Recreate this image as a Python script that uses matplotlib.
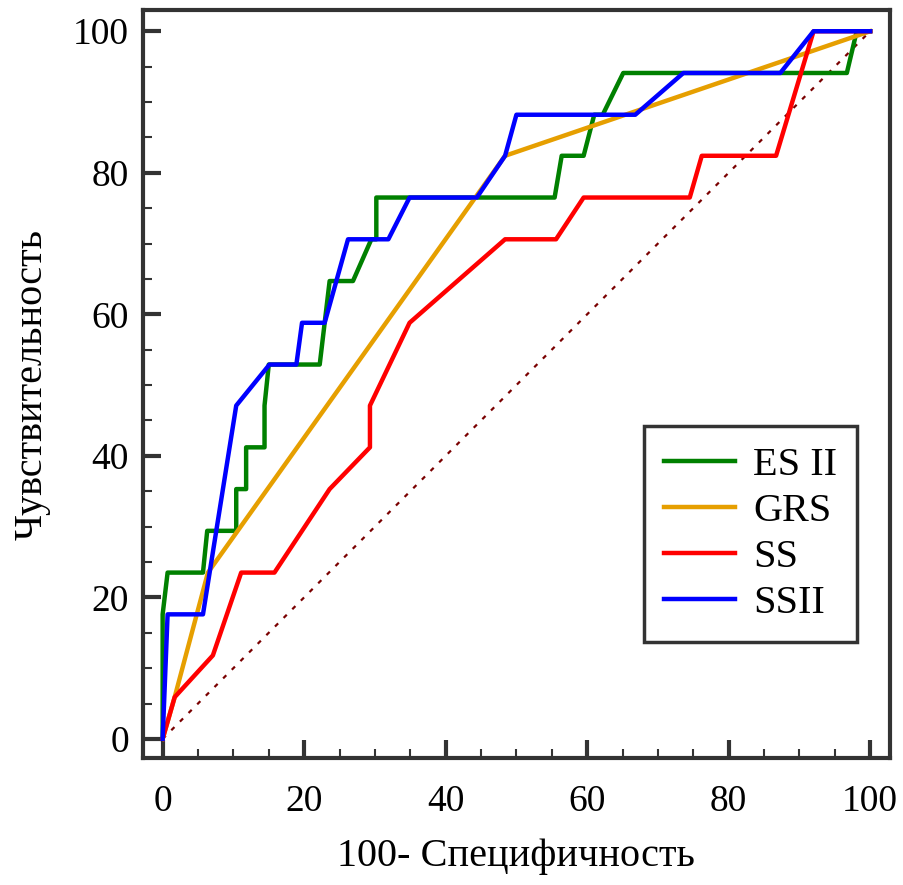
import numpy as np
import matplotlib
matplotlib.use("Agg")
import matplotlib.pyplot as plt
from matplotlib.ticker import MultipleLocator

plt.rcParams['font.family'] = ['Liberation Serif', 'DejaVu Serif']

# ROC curves (x = 100 - specificity, y = sensitivity), %
es2_x = [0, 0, 0.7, 5.7, 6.3, 10.4, 10.4, 11.8, 11.8, 14.4, 14.4, 15.0, 22.2, 23.6, 26.9, 29.5, 30.2, 30.2,
         55.4, 56.4, 59.5, 61.0, 62.2, 65.1, 96.7, 98.1, 100]
es2_y = [0, 17.6, 23.5, 23.5, 29.4, 29.4, 35.3, 35.3, 41.2, 41.2, 47.1, 52.9, 52.9, 64.7, 64.7, 70.6, 70.6, 76.5,
         76.5, 82.4, 82.4, 88.2, 88.2, 94.1, 94.1, 100, 100]

grs_x = [0, 1.7, 6.4, 48.4, 100]
grs_y = [0, 5.9, 23.5, 82.4, 100]

ss_x = [0, 1.7, 7.1, 11.1, 15.8, 23.6, 29.3, 29.3, 34.9, 48.4, 55.6, 59.5, 74.5, 76.2, 86.7, 92.0, 100]
ss_y = [0, 5.9, 11.8, 23.5, 23.5, 35.3, 41.2, 47.1, 58.8, 70.6, 70.6, 76.5, 76.5, 82.4, 82.4, 100, 100]

ss2_x = [0, 0, 0.7, 5.7, 10.4, 15.1, 18.9, 19.7, 22.9, 26.2, 31.9, 34.9, 44.4, 48.4, 50.0, 66.8, 73.6, 87.3,
         92.0, 100]
ss2_y = [0, 0, 17.6, 17.6, 47.1, 52.9, 52.9, 58.8, 58.8, 70.6, 70.6, 76.5, 76.5, 82.4, 88.2, 88.2, 94.1, 94.1,
         100, 100]

fig = plt.figure(figsize=(9.04, 8.85), dpi=100)
ax = fig.add_axes([0.158, 0.1435, 0.8265, 0.8452])

ax.plot([0, 100], [0, 100], color="#7a0000", lw=1.6, dashes=(2, 3.5))
ax.plot(es2_x, es2_y, color="#008000", lw=3.2, label="ES II")
ax.plot(grs_x, grs_y, color="#E69F00", lw=3.2, label="GRS")
ax.plot(ss_x, ss_y, color="#FF0000", lw=3.2, label="SS")
ax.plot(ss2_x, ss2_y, color="#0000FF", lw=3.2, label="SSII")

ax.set_xlim(-2.8, 102.8)
ax.set_ylim(-2.7, 103)
ax.xaxis.set_major_locator(MultipleLocator(20))
ax.yaxis.set_major_locator(MultipleLocator(20))
ax.xaxis.set_minor_locator(MultipleLocator(5))
ax.yaxis.set_minor_locator(MultipleLocator(5))

for s in ax.spines.values():
    s.set_linewidth(3)
    s.set_color("#333333")
ax.tick_params(which="major", direction="in", length=13, width=3, color="#333333",
               labelsize=27, pad=10)
ax.tick_params(axis="x", which="major", pad=19)
ax.tick_params(which="minor", direction="in", length=6.5, width=1.5, color="#333333")

ax.set_xlabel("100- Специфичность", fontsize=29, labelpad=14)
ax.set_ylabel("Чувствительность", fontsize=29, labelpad=16)

leg = ax.legend(loc="lower right", bbox_to_anchor=(0.956, 0.155), borderaxespad=0, fontsize=29,
                fancybox=False, edgecolor="#333333", handlelength=1.75, handletextpad=0.45,
                labelspacing=0.22, borderpad=0.5, framealpha=1)
leg.get_frame().set_linewidth(2.5)

fig.savefig("out.png", dpi=100)
